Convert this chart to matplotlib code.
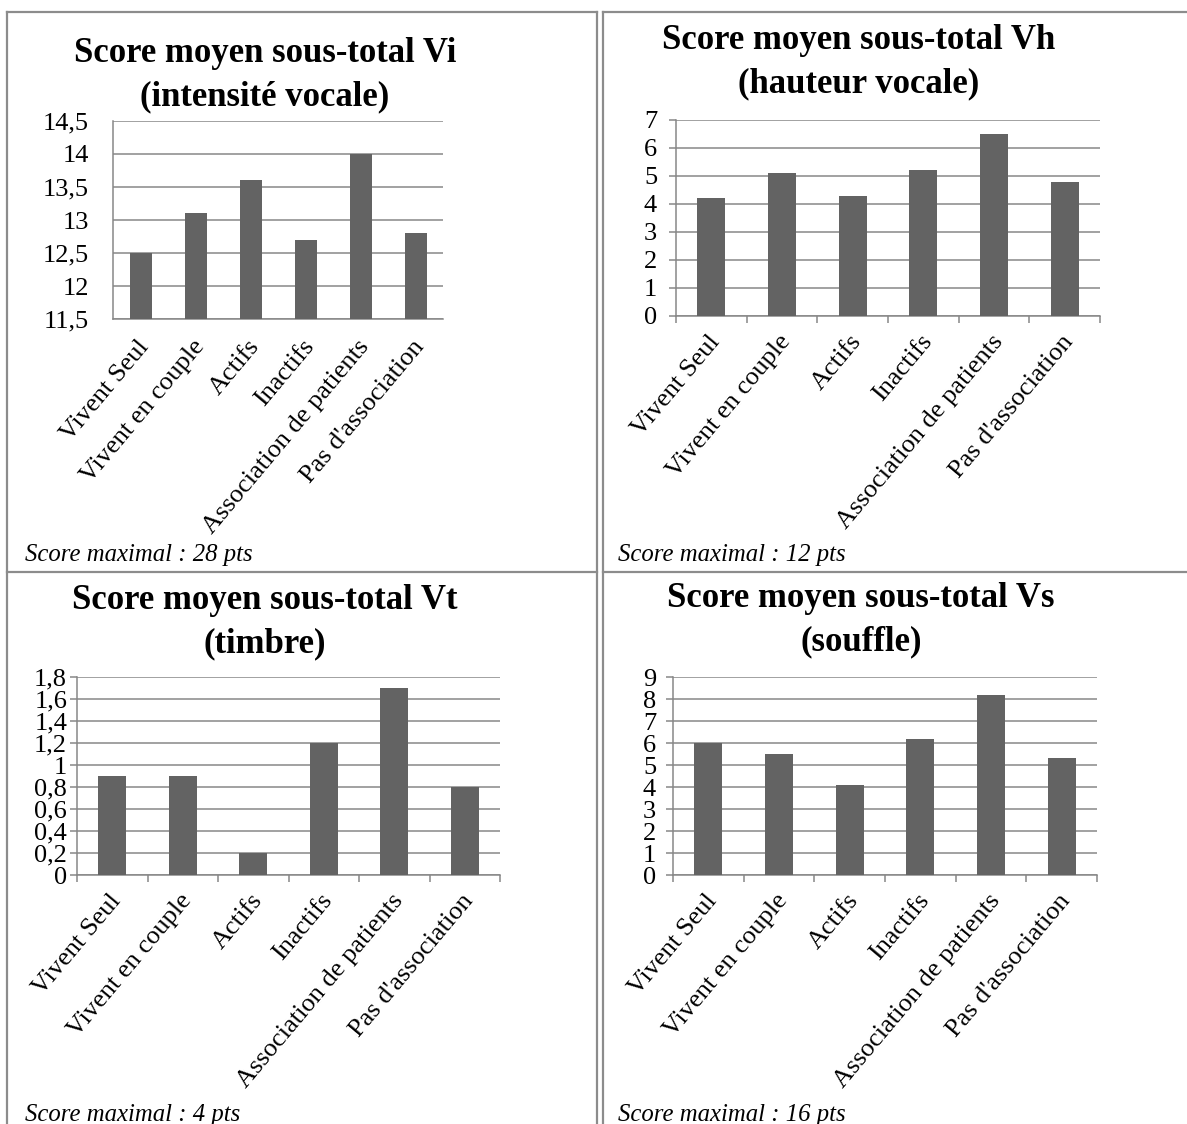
import matplotlib
matplotlib.use("Agg")
import matplotlib.pyplot as plt
import matplotlib.transforms as mtransforms
from matplotlib.lines import Line2D

plt.rcParams['font.family'] = ['Liberation Serif', 'DejaVu Serif']

W, H = 1187, 1124

categories = ["Vivent Seul", "Vivent en couple", "Actifs", "Inactifs",
              "Association de patients", "Pas d'association"]

vi_values = [12.5, 13.1, 13.6, 12.7, 14.0, 12.8]
vh_values = [4.2, 5.1, 4.3, 5.2, 6.5, 4.8]
vt_values = [0.9, 0.9, 0.2, 1.2, 1.7, 0.8]
vs_values = [6.0, 5.5, 4.1, 6.2, 8.2, 5.3]

vi_ticks = [11.5, 12, 12.5, 13, 13.5, 14, 14.5]
vh_ticks = [0, 1, 2, 3, 4, 5, 6, 7]
vt_ticks = [0, 0.2, 0.4, 0.6, 0.8, 1, 1.2, 1.4, 1.6, 1.8]
vs_ticks = [0, 1, 2, 3, 4, 5, 6, 7, 8, 9]

titles = ["Score moyen sous-total Vi\n(intensité vocale)",
          "Score moyen sous-total Vh\n(hauteur vocale)",
          "Score moyen sous-total Vt\n(timbre)",
          "Score moyen sous-total Vs\n(souffle)"]
notes = ["Score maximal : 28 pts", "Score maximal : 12 pts",
         "Score maximal : 4 pts", "Score maximal : 16 pts"]

BAR = "#636363"
GRID = "#878787"
BORDER = "#8c8c8c"

fig = plt.figure(figsize=(W / 100, H / 100), dpi=100)
fig.patch.set_facecolor("white")


def fx(x):
    return x / W


def fy(y):
    return 1 - y / H


def px_axes(left, top, right, bottom):
    return fig.add_axes([fx(left), fy(bottom), (right - left) / W, (bottom - top) / H])


def fmt(v):
    s = ("%g" % v)
    return s.replace(".", ",")


def draw_chart(box, values, ticks, with_ticks, lab_pad, lab_dx, tick_pad):
    ax = px_axes(*box)
    n = len(values)
    x = list(range(n))
    ax.bar(x, [v - ticks[0] for v in values], bottom=ticks[0], width=0.4,
           color=BAR, zorder=3)
    ax.set_xlim(-0.5, n - 0.5)
    ax.set_ylim(ticks[0], ticks[-1])
    ax.set_yticks(ticks)
    ax.set_yticklabels([fmt(t) for t in ticks])
    ax.yaxis.grid(True, color=GRID, linewidth=1.1, zorder=0)
    ax.set_axisbelow(True)
    for side in ("top", "right"):
        ax.spines[side].set_visible(False)
    for side in ("left", "bottom"):
        ax.spines[side].set_color(GRID)
        ax.spines[side].set_linewidth(1.1)
    tl = 5 if with_ticks else 0
    ax.tick_params(axis="y", length=tl, width=1.1, color=GRID, pad=tick_pad,
                   labelsize=19, direction="out")
    ax.set_xticks([i - 0.5 for i in range(n + 1)])
    ax.set_xticklabels([])
    ax.tick_params(axis="x", length=tl, width=1.1, color=GRID, direction="out")
    trans = mtransforms.blended_transform_factory(ax.transData, ax.transAxes) + \
        mtransforms.ScaledTranslation(lab_dx / 100, -lab_pad / 100, fig.dpi_scale_trans)
    for i, c in enumerate(categories):
        ax.text(i, 0, c, transform=trans, rotation=50, rotation_mode="anchor",
                ha="right", va="center", fontsize=19)
    return ax


draw_chart((113, 121, 443, 319), vi_values, vi_ticks, False, 24, 5, 24 * 0.72)
draw_chart((676, 120, 1100, 316), vh_values, vh_ticks, True, 22, 5, 12 * 0.72)
draw_chart((77, 677, 500, 875), vt_values, vt_ticks, True, 22, 5, 3 * 0.72)
draw_chart((673, 677, 1097, 875), vs_values, vs_ticks, True, 22, 5, 10 * 0.72)

# chart titles
title_pos = [(265, 75), (859, 62), (265, 622), (861, 620)]
for (tx, ty), t in zip(title_pos, titles):
    fig.text(fx(tx), fy(ty), t, ha="center", va="center", fontsize=25,
             fontweight="bold", linespacing=1.4, multialignment="center")

# notes under each chart
note_pos = [(25, 561), (618, 561), (25, 1121), (618, 1121)]
for (nx, ny), t in zip(note_pos, notes):
    fig.text(fx(nx), fy(ny), t, ha="left", va="baseline", fontsize=17.8,
             style="italic")

# table borders
segments = [
    ((7, 597), (12, 12)), ((603, 1187), (12, 12)),
    ((7, 597), (572, 572)), ((603, 1187), (572, 572)),
    ((7, 7), (12, 1124)), ((597, 597), (12, 1124)), ((603, 603), (12, 1124)),
]
for xs, ys in segments:
    fig.add_artist(Line2D([fx(v) for v in xs], [fy(v) for v in ys],
                          color=BORDER, linewidth=1.6, transform=fig.transFigure))

fig.savefig("out.png", dpi=100, facecolor="white")
